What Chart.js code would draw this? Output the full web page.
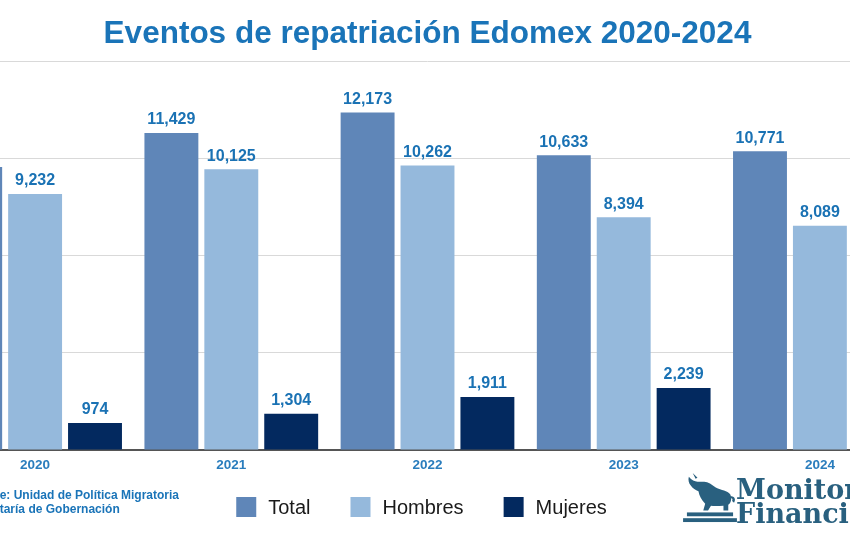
<!DOCTYPE html>
<html>
<head>
<meta charset="utf-8">
<script src="https://cdn.jsdelivr.net/npm/chart.js@4"></script>
<style>
  html, body { margin:0; padding:0; width:850px; height:550px; overflow:hidden; background:#fff; position:relative; font-family:"Liberation Sans", Arial, sans-serif; }
  #wrap { position:absolute; left:-63px; top:0; width:981px; height:550px; }
  #source { position:absolute; left:-33px; top:488px; font-weight:bold; font-size:12px; line-height:14px; color:#1a74b8; white-space:nowrap; }
  #logo { position:absolute; left:680px; top:471px; width:200px; height:60px; white-space:nowrap; }
  #logo .txt { position:absolute; left:56px; top:7px; font-family:"DejaVu Serif", "Liberation Serif", serif; font-weight:bold; font-size:27px; line-height:24px; color:#29607f; }
</style>
</head>
<body>
<div id="wrap"><canvas id="c" width="981" height="550"></canvas></div>
<div id="source">Fuente: Unidad de Política Migratoria<br>Secretaría de Gobernación</div>
<div id="logo">
  <svg width="56" height="50" viewBox="0 0 56 52" style="position:absolute;left:2px;top:2px">
    <path fill="#29607f" d="M6 4 C9 8 12 9 15 9 L22 9 C26 9 30 12 34 15 C40 18 46 18 49 22 C51 26 50 31 47 33 L47 39 L42 39 L42 34 C38 34 33 35 29 34 L26 39 L21 39 L23 32 C19 28 17 24 16 19 C13 18 10 16 8 13 C6 11 5 7 6 4 Z M13 6 L10 0 L15 5 Z M49 24 C54 24 55 28 53 31 L51 29 C52 27 51 26 49 26 Z"/>
    <rect x="4" y="41" width="48" height="4" fill="#29607f"/>
    <rect x="0" y="47" width="56" height="4" fill="#29607f"/>
  </svg>
  <div class="txt">Monitor<br>Financiero</div>
</div>
<script>
const categories = ['2020', '2021', '2022', '2023', '2024'];
const totalValues = [10206, 11429, 12173, 10633, 10771];
const hombresValues = [9232, 10125, 10262, 8394, 8089];
const mujeresValues = [974, 1304, 1911, 2239, 2682];
const seriesNames = ['Total', 'Hombres', 'Mujeres'];
const seriesColors = ['#5f86b8', '#95b9dc', '#03295f'];
const yTicks = [0, 3500, 7000, 10500, 14000];

const FONT = '"Liberation Sans", Arial, sans-serif';

const valueLabels = {
  id: 'valueLabels',
  afterDatasetsDraw(chart) {
    const ctx = chart.ctx;
    ctx.save();
    ctx.font = 'bold 16px ' + FONT;
    ctx.fillStyle = '#1a72b4';
    ctx.textAlign = 'center';
    ctx.textBaseline = 'bottom';
    chart.data.datasets.forEach((ds, i) => {
      const meta = chart.getDatasetMeta(i);
      meta.data.forEach((bar, j) => {
        ctx.fillText(ds.data[j].toLocaleString('en-US'), bar.x, bar.y - 5);
      });
    });
    ctx.restore();
  }
};

// Legend drawn below the axis with the spacing of the original
const bottomLegend = {
  id: 'bottomLegend',
  afterDraw(chart) {
    const ctx = chart.ctx;
    const box = 20, gap = 12, spacing = 40;
    ctx.save();
    ctx.font = '20px ' + FONT;
    const items = chart.data.datasets.map(ds => ({ text: ds.label, color: ds.backgroundColor, w: ctx.measureText(ds.label).width }));
    const total = items.reduce((s, it) => s + box + gap + it.w, 0) + spacing * (items.length - 1);
    let x = chart.width / 2 - 6 - total / 2;
    const cy = chart.scales.x.bottom + 33;
    ctx.textBaseline = 'middle';
    ctx.textAlign = 'left';
    items.forEach(it => {
      ctx.fillStyle = it.color;
      ctx.fillRect(x, cy - box / 2, box, box);
      ctx.fillStyle = '#1a1a1a';
      ctx.fillText(it.text, x + box + gap, cy + 1);
      x += box + gap + it.w + spacing;
    });
    ctx.restore();
  }
};

new Chart(document.getElementById('c'), {
  type: 'bar',
  data: {
    labels: categories,
    datasets: [
      { label: seriesNames[0], data: totalValues, backgroundColor: seriesColors[0] },
      { label: seriesNames[1], data: hombresValues, backgroundColor: seriesColors[1] },
      { label: seriesNames[2], data: mujeresValues, backgroundColor: seriesColors[2] }
    ]
  },
  options: {
    responsive: false,
    animation: false,
    layout: { padding: { left: 0, right: 0, top: 0, bottom: 76 } },
    datasets: { bar: { categoryPercentage: 0.916, barPercentage: 0.9 } },
    scales: {
      x: {
        grid: { display: false, drawTicks: false },
        border: { display: true, color: '#555', width: 2 },
        ticks: { color: '#2a7dbd', font: { size: 13.5, weight: 'bold', family: FONT }, padding: 7 },
        afterFit: (axis) => { axis.height = 24; }
      },
      y: {
        min: 0, max: 14000,
        afterBuildTicks: (axis) => { axis.ticks = yTicks.map(v => ({ value: v })); },
        grid: { color: '#d9d9d9', lineWidth: 1, drawTicks: false },
        border: { display: false },
        ticks: { display: false }
      }
    },
    plugins: {
      title: {
        display: true,
        text: 'Eventos de repatriación Edomex 2020-2024',
        color: '#1a74b8',
        font: { size: 31.5, weight: 'bold', family: FONT },
        padding: { top: 15, bottom: 9 }
      },
      legend: { display: false },
      tooltip: { enabled: false }
    }
  },
  plugins: [valueLabels, bottomLegend]
});
</script>
</body>
</html>
